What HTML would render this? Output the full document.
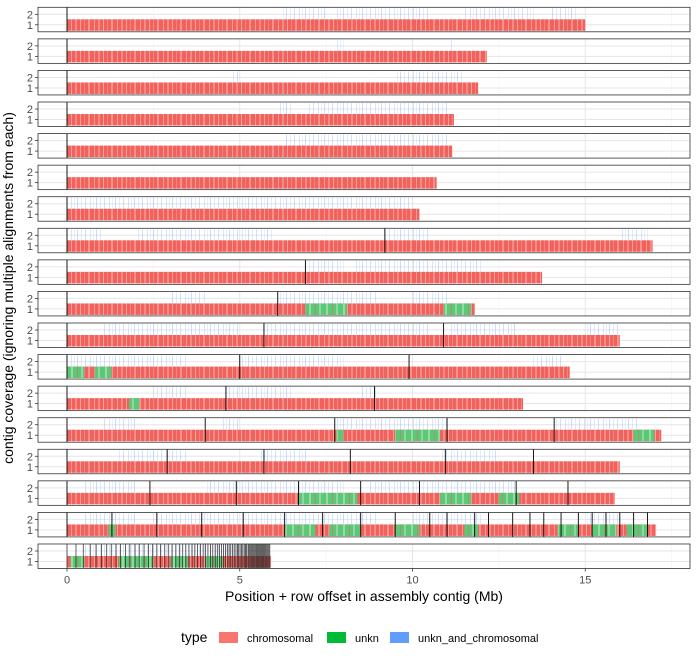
<!DOCTYPE html>
<html><head><meta charset="utf-8"><style>
html,body{margin:0;padding:0;background:#fff;}
svg{display:block;font-family:"Liberation Sans",Arial,sans-serif;}
</style></head><body>
<svg id="chart" width="698" height="663" viewBox="0 0 698 663" xmlns="http://www.w3.org/2000/svg">
<defs>
<pattern id="stripesR" width="23" height="20" patternUnits="userSpaceOnUse">
<rect width="23" height="20" fill="#F2625C"/>
<rect x="2" width="1" height="20" fill="#fff" opacity="0.35"/>
<rect x="6" width="2" height="20" fill="#fff" opacity="0.25"/>
<rect x="11" width="1" height="20" fill="#fff" opacity="0.4"/>
<rect x="15" width="1" height="20" fill="#fff" opacity="0.2"/>
<rect x="19" width="2" height="20" fill="#fff" opacity="0.3"/>
</pattern>
<pattern id="stripesG" width="17" height="20" patternUnits="userSpaceOnUse">
<rect width="17" height="20" fill="#5CC777"/>
<rect x="3" width="2" height="20" fill="#fff" opacity="0.35"/>
<rect x="9" width="1" height="20" fill="#F2625C" opacity="0.5"/>
<rect x="13" width="2" height="20" fill="#fff" opacity="0.3"/>
</pattern>
<pattern id="stripesB" width="19" height="20" patternUnits="userSpaceOnUse">
<rect x="1" width="1" height="20" fill="#619CFF" opacity="0.35"/>
<rect x="5" width="1" height="20" fill="#619CFF" opacity="0.2"/>
<rect x="9" width="1" height="20" fill="#619CFF" opacity="0.3"/>
<rect x="14" width="1" height="20" fill="#619CFF" opacity="0.25"/>
<rect x="17" width="1" height="20" fill="#619CFF" opacity="0.15"/>
</pattern>
</defs>
<g id="plot"></g>
<text x="13" y="288" transform="rotate(-90 13 288)" text-anchor="middle" font-size="14" fill="#000">contig coverage (ignoring multiple alignments from each)</text>
<text x="364" y="601" text-anchor="middle" font-size="14" fill="#000">Position + row offset in assembly contig (Mb)</text>
<g>
<text x="181" y="642" font-size="14">type</text>
<rect x="219" y="632" width="19" height="11" fill="#F8766D"/>
<text x="247" y="642" font-size="11">chromosomal</text>
<rect x="327" y="632" width="19" height="11" fill="#00BA38"/>
<text x="355" y="642" font-size="11">unkn</text>
<rect x="390" y="632" width="19" height="11" fill="#619CFF"/>
<text x="418" y="642" font-size="11">unkn_and_chromosomal</text>
</g>
</svg>
<script>
const panelLengths=[15.0,12.15,11.9,11.2,11.15,10.7,10.2,16.95,13.75,11.8,16.0,14.55,13.2,17.2,16.0,15.85,17.05,5.9];
const boundaries=[[],[],[],[],[],[],[],[9.2],[6.9],[6.1],[5.7,10.9],[5.0,9.9],[4.6,8.9],[4.0,7.75,11.0,14.1],[2.9,5.7,8.2,10.95,13.5],[2.4,4.9,6.7,8.5,10.2,13.0,14.5],
[1.3,2.6,3.9,5.1,6.3,7.4,8.5,9.5,10.5,11.0,11.8,12.2,12.9,13.4,13.8,14.3,14.8,15.2,15.6,16.0,16.4,16.8],
[0.26,0.47,0.67,0.84,1.0,1.15,1.28,1.42,1.55,1.69,1.82,1.97,2.09,2.23,2.36,2.48,2.6,2.71,2.83,2.93,3.04,3.15,3.25,3.35,3.44,3.53,3.62,3.70,3.78,3.86,3.94,4.01,4.08,4.15,4.22,4.29,4.35,4.41,4.47,4.53,4.59,4.64,4.69,4.74,4.79,4.84,4.89,4.93,4.97,5.01,5.05,5.09,5.13,5.17,5.2,5.24,5.27,5.3,5.33,5.36,5.39,5.42,5.45,5.48,5.51,5.54,5.57,5.6,5.63,5.66,5.69,5.72,5.75,5.78,5.81,5.84,5.87]];
const greenSegs=[[],[],[],[],[],[],[],[],[],[[6.9,8.1],[10.9,11.7]],[],[[0,0.5],[0.8,1.3]],[[1.8,2.1]],[[7.8,8.0],[9.5,10.8],[16.4,17.0]],[],[[6.7,8.4],[10.8,11.7],[12.5,13.1]],
[[1.2,1.4],[6.3,7.2],[7.6,8.5],[9.5,10.2],[11.5,11.9],[14.2,14.8],[15.2,15.9],[16.2,16.8]],[[0.1,0.5],[1.5,2.5],[3.0,3.5],[4.0,4.5]]];
const blueSegs=[[[6.2,7.5],[7.8,10.5],[11.5,13.5],[14,14.8]],[[7.8,8.0],[11.0,11.2]],[[4.8,5.0],[9.5,11.5]],[[6.1,6.5],[7,11]],[[6.3,11]],[],[[0,10]],[[0,1],[2,6],[9.2,10.5],[16,16.8]],[[6.9,8],[8.3,12]],[[3,4],[6.1,9],[10,11]],[[1,5],[5.7,10.5],[11,13],[15,16]],[[0,3.5],[5,8],[13.5,14.3]],[[2.5,3.5],[4.6,6.5],[8.5,9]],[[1,2],[4.5,5],[7.8,11],[14.1,16.5]],[[1.5,3.5],[5.5,7],[10.8,12.5]],[[0.5,2],[4,8],[8.7,13]],[[0.5,2],[2.5,9],[10,12],[15,16]],[[0.5,5.5]]];
const xTicks=[0,5,10,15];
const xMinor=[2.5,7.5,12.5,17.5];
const yTicks=["2","1"];

(function(){
const NS="http://www.w3.org/2000/svg";
const plot=document.getElementById('plot');
const X0=67,XS=34.55,PL=38,PR=690,PH=24.5;
function xs(v){return X0+v*XS;}
function panelTop(i){return 7.3+i*31.57;}
function mk(tag,attrs,parent){const e=document.createElementNS(NS,tag);for(const k in attrs)e.setAttribute(k,attrs[k]);(parent||plot).appendChild(e);return e;}

panelLengths.forEach((len,i)=>{
  const t=panelTop(i);
  const g=mk('g',{});
  
  
  mk('rect',{x:PL,y:t,width:PR-PL,height:PH,fill:'#fff'},g);
  xMinor.forEach(v=>mk('line',{x1:xs(v),x2:xs(v),y1:t,y2:t+PH,stroke:'#f2f2f2','stroke-width':0.6},g));
  xTicks.forEach(v=>mk('line',{x1:xs(v),x2:xs(v),y1:t,y2:t+PH,stroke:'#e6e6e6','stroke-width':1},g));
  [7,17.5].forEach(o=>mk('line',{x1:PL,x2:PR,y1:t+o,y2:t+o,stroke:'#e6e6e6','stroke-width':1},g));
  blueSegs[i].forEach(s=>{
    const r=mk('rect',{x:xs(s[0]),y:t+1,width:xs(s[1])-xs(s[0]),height:11,fill:'url(#stripesB)'},g);
    
    
  });
  const band=mk('rect',{x:xs(0),y:t+12,width:xs(len)-xs(0),height:11.5,fill:'url(#stripesR)'},g);
  
  
  greenSegs[i].forEach(s=>{
    const r=mk('rect',{x:xs(s[0]),y:t+12,width:xs(s[1])-xs(s[0]),height:11.5,fill:'url(#stripesG)'},g);
    
    
  });
  const dense=boundaries[i].length>40;
  [0].concat(boundaries[i]).forEach(b=>{
    const l=mk('line',{x1:xs(b),x2:xs(b),y1:t,y2:t+PH,stroke:dense?'#222':'#000','stroke-width':dense?0.7:0.9},g);
    
    
  });
  mk('rect',{x:PL,y:t,width:PR-PL,height:PH,fill:'none',stroke:'#333','stroke-width':0.8},g);
  yTicks.forEach((lab,k)=>{
    const yy=t+(k===0?7:17.5);
    mk('line',{x1:PL-3,x2:PL,y1:yy,y2:yy,stroke:'#333','stroke-width':0.8},g);
    const tx=mk('text',{x:PL-5,y:yy+4,'text-anchor':'end','font-size':11,fill:'#4d4d4d'},g);
    tx.textContent=lab;
    
    
  });
});
const bottom=panelTop(panelLengths.length-1)+PH;
xTicks.forEach(v=>{
  mk('line',{x1:xs(v),x2:xs(v),y1:bottom,y2:bottom+3,stroke:'#333','stroke-width':0.8});
  const tx=mk('text',{x:xs(v),y:bottom+15,'text-anchor':'middle','font-size':11,fill:'#4d4d4d'});
  tx.textContent=v;
  
  
});
})();
</script>
</body></html>
